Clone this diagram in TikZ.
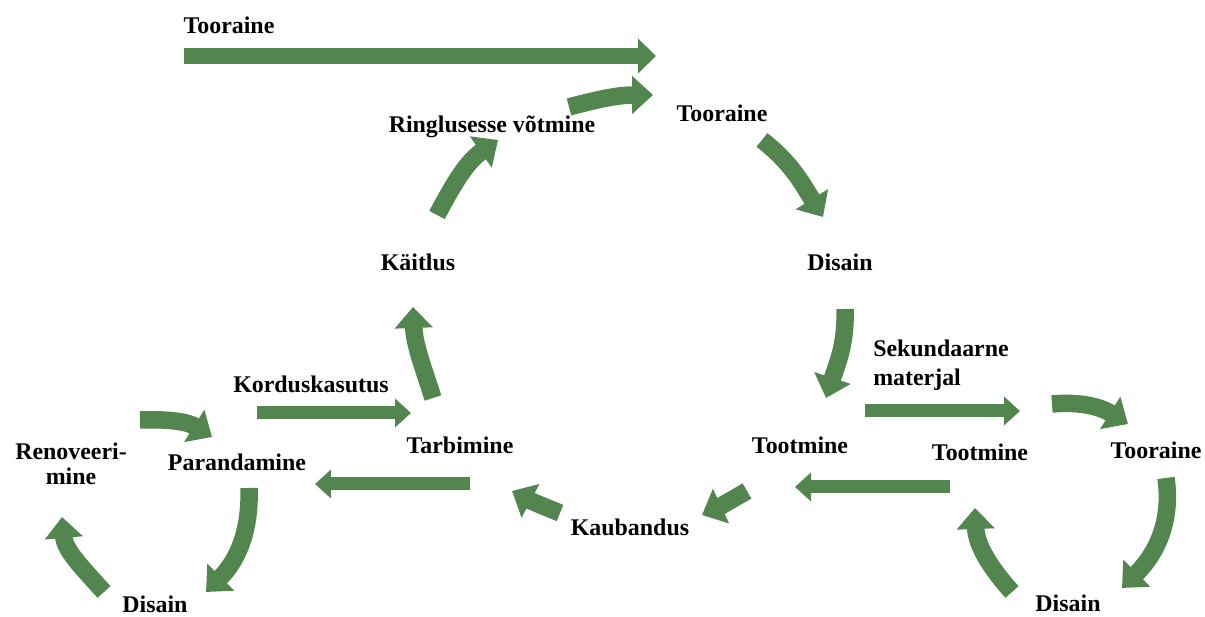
\documentclass[tikz,border=0pt]{standalone}
\usepackage{fontspec}
\setmainfont{Liberation Serif}
\usetikzlibrary{arrows.meta,positioning}
\definecolor{leafgreen}{RGB}{82,134,78}

\begin{document}
\begin{tikzpicture}[
  x=0.02cm, y=0.02cm,
  term/.style={font=\fontsize{13.6}{16}\selectfont\bfseries, inner sep=0pt,
               text height=0.68em, text depth=0pt, align=center},
  flow/.style={draw=leafgreen, line width=0.26cm, -{Triangle[length=0.32cm, width=0.56cm]}},
  mainflow/.style={draw=leafgreen, line width=0.32cm, -{Triangle[length=0.36cm, width=0.68cm]}},
  arcflow/.style={draw=leafgreen, line width=0.35cm, -{Triangle[length=0.42cm, width=0.74cm]}}
]
\useasboundingbox (0,0) rectangle (1205,617);

\node[term] (toorTop) at (229,589) {Tooraine};
\node[term] (ringlus) at (492,490) {Ringlusesse võtmine};
\node[term] (toorMid) at (722,501) {Tooraine};
\node[term] (kaitlus) at (418,352) {Käitlus};
\node[term] (disainUp) at (840,352) {Disain};
\node[term, align=left, font=\fontsize{13.6}{16.5}\selectfont\bfseries] (sekund) at (941,237) {Sekundaarne\\materjal};
\node[term] (tootL) at (800,169) {Tootmine};
\node[term] (tootR) at (980,162) {Tootmine};
\node[term] (toorR) at (1156,164) {Tooraine};
\node[term] (disainR) at (1068,11) {Disain};
\node[term] (kauband) at (630,87) {Kaubandus};
\node[term] (tarbim) at (460,169) {Tarbimine};
\node[term] (kordus) at (311,230) {Korduskasutus};
\node[term] (parand) at (237,152) {Parandamine};
\node[term, font=\fontsize{13.6}{14.5}\selectfont\bfseries] (renov) at (71,138) {Renoveeri-\\mine};
\node[term] (disainL) at (155,10) {Disain};

\coordinate (topS) at (184,561);  \coordinate (topE) at (656,561);
\coordinate (ringS) at (569,510); \coordinate (ringE) at (653,522);
\coordinate (kaitS) at (437,402); \coordinate (kaitE) at (498,477);
\coordinate (toorS) at (762,477); \coordinate (toorE) at (823,400);
\coordinate (disS) at (845,308);  \coordinate (disE) at (826,219);
\coordinate (sekS) at (865,206);  \coordinate (sekE) at (1020,206);
\coordinate (rtS) at (1052,213);  \coordinate (rtE) at (1128,193);
\coordinate (rrS) at (1166,139);  \coordinate (rrE) at (1122,29);
\coordinate (rbS) at (1012,25);   \coordinate (rbE) at (975,109);
\coordinate (totS) at (950,130);  \coordinate (totE) at (795,130);
\coordinate (kauS) at (747,126);  \coordinate (kauE) at (702,102);
\coordinate (tarS) at (560,104);  \coordinate (tarE) at (512,126);
\coordinate (parS) at (470,133);  \coordinate (parE) at (315,133);
\coordinate (korS) at (257,204);  \coordinate (korE) at (411,204);
\coordinate (kaS) at (433,219);   \coordinate (kaE) at (413,310);
\coordinate (renS) at (140,197);  \coordinate (renE) at (212,180);
\coordinate (pdS) at (249,129);   \coordinate (pdE) at (206,25);
\coordinate (dlS) at (104,25);    \coordinate (dlE) at (62,100);

\draw[mainflow] (topS) -- (topE);
\draw[arcflow] (ringS) to[out=15, in=180] (ringE);
\draw[arcflow] (kaitS) to[out=62, in=215] (kaitE);
\draw[arcflow] (toorS) to[out=-38, in=122] (toorE);
\draw[arcflow] (disS) to[out=-88, in=72] (disE);
\draw[flow] (sekS) -- (sekE);
\draw[arcflow] (rtS) to[out=5, in=148] (rtE);
\draw[arcflow] (rrS) to[out=-82, in=45] (rrE);
\draw[arcflow] (rbS) to[out=132, in=-88] (rbE);
\draw[flow] (totS) -- (totE);
\draw[arcflow] (kauS) to[out=-150, in=25] (kauE);
\draw[arcflow] (tarS) to[out=158, in=-28] (tarE);
\draw[flow] (parS) -- (parE);
\draw[flow] (korS) -- (korE);
\draw[arcflow] (kaS) to[out=108, in=-88] (kaE);
\draw[arcflow] (renS) to[out=2, in=148] (renE);
\draw[arcflow] (pdS) to[out=-88, in=45] (pdE);
\draw[arcflow] (dlS) to[out=132, in=-85] (dlE);
\end{tikzpicture}
\end{document}
